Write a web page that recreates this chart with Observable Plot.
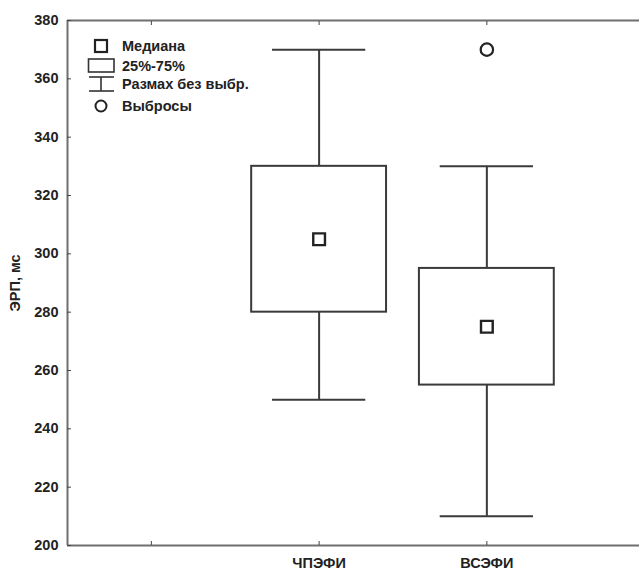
<!DOCTYPE html>
<html>
<head>
<meta charset="utf-8">
<script src="https://cdn.jsdelivr.net/npm/d3@7"></script>
<script src="https://cdn.jsdelivr.net/npm/@observablehq/plot@0.6"></script>
<style>
  body { margin: 0; background: #fff; }
  #wrap { position: relative; width: 639px; height: 570px; font-family: "Liberation Sans", Arial, sans-serif; }
  #legend { position: absolute; left: 0; top: 0; pointer-events: none; }
</style>
</head>
<body>
<div id="wrap"></div>
<script>
// ---- data ----
const tickLabels = ["", "ЧПЭФИ", "ВСЭФИ"];
const categories = ["ЧПЭФИ", "ВСЭФИ"];
const medians = [305, 275];
const q1 = [280, 255];
const q3 = [330, 295];
const whiskerLow = [250, 210];
const whiskerHigh = [370, 330];
const outlierCategories = ["ВСЭФИ"];
const outlierValues = [370];
const yTicks = [200, 220, 240, 260, 280, 300, 320, 340, 360, 380];
const yLabel = "ЭРП, мс";
const legendItems = ["Медиана", "25%-75%", "Размах без выбр.", "Выбросы"];

// ---- derived table ----
const pos = c => tickLabels.indexOf(c) + 1;
const boxes = categories.map((c, i) => ({
  c, x: pos(c), med: medians[i], q1: q1[i], q3: q3[i], lo: whiskerLow[i], hi: whiskerHigh[i]
}));
const outliers = outlierCategories.map((c, i) => ({x: pos(c), v: outlierValues[i]}));

const BOX_HALF = 0.402, CAP_HALF = 0.278;
const ink = "#3a3a3a", axisInk = "#6f6f6f";

const chart = Plot.plot({
  width: 639,
  height: 570,
  marginLeft: 67,
  marginRight: 0,
  marginTop: 20,
  marginBottom: 25,
  style: {fontFamily: "'Liberation Sans', Arial, sans-serif", fontWeight: "bold", fontSize: "14.5px", color: "#222", background: "#fff"},
  x: {domain: [0.5, 3.91], ticks: [1, 2, 3]},
  y: {domain: [200, 380]},
  marks: [
    // frame lines
    Plot.ruleY([380], {stroke: axisInk, strokeWidth: 2}),
    Plot.ruleY([200], {stroke: axisInk, strokeWidth: 2}),
    Plot.ruleX([0.5], {stroke: axisInk, strokeWidth: 2}),
    Plot.axisX({anchor: "bottom", ticks: [1, 2, 3], tickSize: -4, tickPadding: 16, tickFormat: d => tickLabels[d - 1] ?? "", label: null, stroke: "#444", fill: "#222"}),
    Plot.axisX({anchor: "top", ticks: [1, 2, 3], tickSize: -4, tickFormat: () => "", label: null, stroke: "#444"}),
    Plot.axisY({anchor: "left", ticks: yTicks, tickSize: -4, tickPadding: 13, label: yLabel, labelAnchor: "center", labelArrow: "none", labelOffset: 58, stroke: "#444", fill: "#222"}),
    // whiskers
    Plot.ruleX(boxes, {x: "x", y1: "lo", y2: "q1", stroke: ink, strokeWidth: 2}),
    Plot.ruleX(boxes, {x: "x", y1: "q3", y2: "hi", stroke: ink, strokeWidth: 2}),
    Plot.ruleY(boxes, {y: "lo", x1: d => d.x - CAP_HALF, x2: d => d.x + CAP_HALF, stroke: ink, strokeWidth: 2}),
    Plot.ruleY(boxes, {y: "hi", x1: d => d.x - CAP_HALF, x2: d => d.x + CAP_HALF, stroke: ink, strokeWidth: 2}),
    // boxes
    Plot.rect(boxes, {x1: d => d.x - BOX_HALF, x2: d => d.x + BOX_HALF, y1: "q1", y2: "q3", fill: "white", stroke: ink, strokeWidth: 2}),
    // medians
    Plot.dot(boxes, {x: "x", y: "med", symbol: "square", r: 6.6, fill: "white", stroke: "#222", strokeWidth: 2.4}),
    // outliers
    Plot.dot(outliers, {x: "x", y: "v", symbol: "circle", r: 6.2, fill: "white", stroke: "#222", strokeWidth: 2.2})
  ]
});

const wrap = document.getElementById("wrap");
wrap.appendChild(chart);

// ---- legend (inside plot area, top-left) ----
const lg = d3.select(wrap).append("svg").attr("id", "legend").attr("width", 639).attr("height", 130)
  .style("font-family", "'Liberation Sans', Arial, sans-serif").style("font-weight", "bold").style("font-size", "14.5px");
const rowY = [46, 65.5, 84, 106];
const cx = 101;
// median square
lg.append("rect").attr("x", cx - 6).attr("y", rowY[0] - 6).attr("width", 12).attr("height", 12)
  .attr("fill", "white").attr("stroke", "#222").attr("stroke-width", 2.2);
// box
lg.append("rect").attr("x", 88.5).attr("y", rowY[1] - 6.5).attr("width", 25.5).attr("height", 13)
  .attr("fill", "white").attr("stroke", "#333").attr("stroke-width", 1.6);
// whisker
lg.append("line").attr("x1", 89).attr("x2", 114).attr("y1", rowY[2] - 7).attr("y2", rowY[2] - 7).attr("stroke", "#333").attr("stroke-width", 1.6);
lg.append("line").attr("x1", 89).attr("x2", 114).attr("y1", rowY[2] + 7).attr("y2", rowY[2] + 7).attr("stroke", "#333").attr("stroke-width", 1.6);
lg.append("line").attr("x1", cx).attr("x2", cx).attr("y1", rowY[2] - 7).attr("y2", rowY[2] + 7).attr("stroke", "#333").attr("stroke-width", 1.6);
// outlier
lg.append("circle").attr("cx", cx).attr("cy", rowY[3]).attr("r", 5.5).attr("fill", "white").attr("stroke", "#222").attr("stroke-width", 2);
legendItems.forEach((t, i) => {
  lg.append("text").attr("x", 122).attr("y", rowY[i]).attr("dy", "0.35em").attr("fill", "#222").text(t);
});
</script>
</body>
</html>
